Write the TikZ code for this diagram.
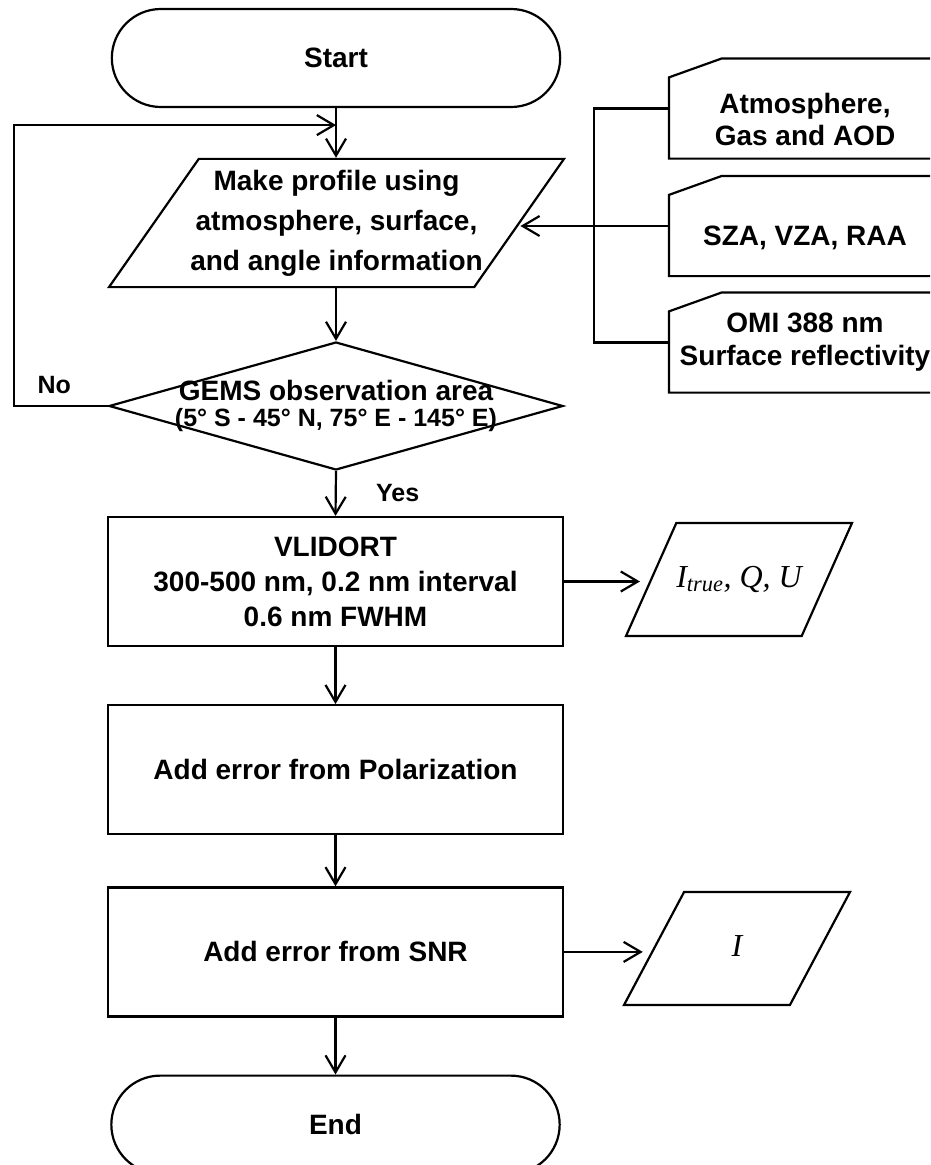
\documentclass[tikz,border=0pt]{standalone}
\usepackage{fontspec}
\setmainfont{Liberation Sans}
\newfontfamily\mfont{Liberation Serif}
\usetikzlibrary{shapes.geometric,shapes.misc,arrows.meta,positioning}

\begin{document}
\begin{tikzpicture}[
  x=1pt, y=-1pt,
  font=\fontsize{28}{35}\selectfont\bfseries,
  line width=2.2pt,
  term/.style={draw, rounded rectangle, minimum width=455pt, minimum height=98pt},
  proc/.style={draw, rectangle, minimum width=455pt, minimum height=129pt, align=center},
  io/.style={draw, trapezium, trapezium stretches body, align=center, inner xsep=4pt},
  cond/.style={draw, diamond, minimum width=454pt, minimum height=128pt, inner sep=0pt},
  card/.style={minimum width=270pt, minimum height=98pt, align=center},
  lab/.style={font=\fontsize{25}{30}\selectfont\bfseries},
  mth/.style={font=\fontsize{32}{35}\selectfont\mfont\mdseries\itshape, text height=22pt, text depth=7pt, inner ysep=42pt},
  arr/.style={-{Straight Barb[length=17pt,width=20pt]}}
]
\useasboundingbox (0,0) rectangle (930,1165);
\clip (0,0) rectangle (930,1165);

% main column
\node[term] (start) at (336,58) {Start};
\node[io, inner ysep=11pt, inner xsep=-15pt, trapezium left angle=55, trapezium right angle=125, minimum width=455pt, minimum height=128pt] (prof) at (336.5,223)
  {Make profile using\\[5pt] atmosphere, surface,\\[5pt] and angle information};
\node[cond, label={[align=center]center:GEMS observation area\\[-9pt]{\fontsize{25}{25}\selectfont (5° S - 45° N, 75° E - 145° E)}}] (dec) at (336,406) {};
\node[proc] (vlid) at (335.5,581.5) {VLIDORT\\300-500 nm, 0.2 nm interval\\0.6 nm FWHM};
\node[proc, below=57pt of vlid] (pol) {Add error from Polarization};
\node[proc, below=51pt of pol] (snr) {Add error from SNR};
\node[term, below=57pt of snr] (endn) {End};

% outputs
\node[io, mth, inner xsep=-8pt, trapezium left angle=66, trapezium right angle=114, minimum width=226pt, minimum height=113pt] (iqu) at (739,579.5) {I\textsubscript{true}, Q, U};
\node[io, mth, trapezium left angle=62, trapezium right angle=118, minimum width=226pt, minimum height=113pt] (iout) at (737,948.5) {I};

% inputs
\node[card, text height=75pt] (atm) at (805,108.5) {Atmosphere,\\[-3pt]Gas and AOD};
\node[card, text height=44pt] (ang) at (805,226) {SZA, VZA, RAA};
\node[card] (omi) at (805,342.5) {OMI 388 nm\\[-2pt]Surface reflectivity};
\foreach \c in {atm,ang,omi}
  \draw (\c.south east) -- (\c.south west) -- ([yshift=-19pt]\c.north west) -- ([xshift=53pt]\c.north west) -- (\c.north east);

\coordinate (loopin) at ([yshift=-17pt]start.south);

\draw[arr] (start.south) -- (start.south |- prof.north);
\draw[arr] (start.south |- prof.south) -- (dec.north);
\draw[arr] (dec.south) -- node[lab, right=36pt]{Yes} (vlid.north);
\draw[arr] (dec.west) -- node[lab, above=8pt, pos=0.57]{No} ++(-94,0) |- (loopin);
\draw[arr] (vlid.south) -- (pol.north);
\draw[arr] (pol.south) -- (snr.north);
\draw[arr] (snr.south) -- (endn.north);
\draw[arr] (vlid.east) -- ([xshift=-10pt]iqu.left side |- vlid.east);
\draw[arr] (snr.east) -- ([xshift=-10pt]iout.left side |- snr.east);
\draw (atm.west) -- ++(-75,0) |- (omi.west);
\draw[arr] (ang.west) -- (prof.right side |- ang.west);
\end{tikzpicture}
\end{document}
